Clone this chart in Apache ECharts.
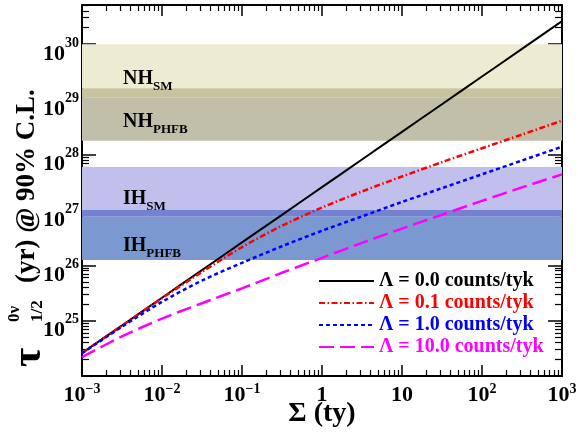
<!DOCTYPE html>
<html>
<head>
<meta charset="utf-8">
<script src="https://cdn.jsdelivr.net/npm/echarts@6/dist/echarts.min.js"></script>
<style>
  html, body { margin: 0; padding: 0; background: #fff; }
  #main { width: 578px; height: 434px; }
</style>
</head>
<body>
<div id="main"></div>
<script>
// exposure Σ (ty)
var exposure = [1e-3, 3.16e-3, 1e-2, 3.16e-2, 0.1, 0.316, 1, 3.16, 10, 31.6, 100, 316, 1000];
// half-life sensitivity (yr) for each background level Λ
var halfLife0 = [2.6e24, 8.2e24, 2.6e25, 8.2e25, 2.6e26, 8.2e26, 2.6e27, 8.2e27, 2.6e28, 8.2e28, 2.6e29, 8.2e29, 2.6e30];
var halfLife01 = [2.61e24, 8.15e24, 2.55e25, 7.6e25, 2.14e26, 5.2e26, 1.11e27, 2.17e27, 4.04e27, 7.35e27, 1.31e28, 2.32e28, 4.13e28];
var halfLife1 = [2.57e24, 7.78e24, 2.19e25, 5.32e25, 1.11e26, 2.22e26, 4.23e26, 7.69e26, 1.4e27, 2.49e27, 4.43e27, 7.87e27, 1.4e28];
var halfLife10 = [2.19e24, 5.2e24, 1.09e25, 2.07e25, 3.85e25, 7.35e25, 1.37e26, 2.55e26, 4.63e26, 8.24e26, 1.47e27, 2.57e27, 4.43e27];

var seriesNames = ['Λ = 0.0 counts/tyk', 'Λ = 0.1 counts/tyk', 'Λ = 1.0 counts/tyk', 'Λ = 10.0 counts/tyk'];
var seriesColors = ['#000000', '#ff0000', '#0000ff', '#ff00ff'];

// hierarchy bands [low, high] (yr)
var nhSM = [1.1e29, 1e30];
var nhPHFB = [1.8e28, 1.6e29];
var ihSM = [7.6e26, 6e27];
var ihPHFB = [1.25e26, 1e27];

// axis ticks
var xMajor = [1e-3, 1e-2, 1e-1, 1, 10, 100, 1000];
var yMajor = [1e24, 1e25, 1e26, 1e27, 1e28, 1e29, 1e30];
var yLabelValues = [1e25, 1e26, 1e27, 1e28, 1e29, 1e30];
var xMin = 1e-3, xMax = 1e3, yMin = 1e24, yMax = 5.1e30;

function minorTicks(d0, d1, max) {
  var out = [];
  for (var d = d0; d <= d1; d++) {
    for (var k = 2; k <= 9; k++) {
      var v = k * Math.pow(10, d);
      if (v < max) out.push(v);
    }
  }
  return out;
}
var xMinor = minorTicks(-3, 2, xMax);
var yMinor = minorTicks(24, 30, yMax);

var serif = 'Liberation Serif';

function expLabel(v, plainSmall) {
  var e = Math.round(Math.log10(v));
  if (plainSmall && e === 0) return '{b|1}';
  if (plainSmall && e === 1) return '{b|10}';
  return '{b|10}{e|' + String(e).replace('-', '\u2212') + '}';
}

var chart = echarts.init(document.getElementById('main'));

function axisBase(type, pos, extra) {
  var a = {
    type: 'log', logBase: 10, gridIndex: 0, position: pos,
    min: type === 'x' ? xMin : yMin, max: type === 'x' ? xMax : yMax,
    splitLine: { show: false },
    axisLine: { show: true, onZero: false, lineStyle: { color: '#000', width: 2 } },
    axisLabel: { show: false },
    axisTick: { show: true, inside: true }
  };
  return Object.assign(a, extra);
}

var xLabelRich = {
  b: { fontFamily: serif, fontWeight: 'bold', fontSize: 22, color: '#000', lineHeight: 27 },
  e: { fontFamily: serif, fontWeight: 'bold', fontSize: 14, color: '#000', padding: [0, 0, 13, 0] }
};
var yLabelRich = {
  b: { fontFamily: serif, fontWeight: 'bold', fontSize: 22, color: '#000', padding: [20, 0, 0, 0] },
  e: { fontFamily: serif, fontWeight: 'bold', fontSize: 14, color: '#000', padding: [0, 0, 2, 0] }
};

var xAxes = [
  axisBase('x', 'bottom', {
    axisTick: { show: true, inside: true, length: 11, customValues: xMajor, lineStyle: { color: '#000', width: 1.5 } },
    axisLabel: { show: true, customValues: xMajor, margin: 6, formatter: function (v) { return expLabel(v, true); }, rich: xLabelRich },
    name: 'Σ (ty)', nameLocation: 'middle', nameGap: 24, nameMoveOverlap: false,
    nameTextStyle: { fontFamily: serif, fontWeight: 'bold', fontSize: 28, color: '#000' }
  }),
  axisBase('x', 'bottom', {
    axisLine: { show: false },
    axisTick: { show: true, inside: true, length: 6, customValues: xMinor, lineStyle: { color: '#000', width: 1.2 } }
  }),
  axisBase('x', 'top', {
    axisTick: { show: true, inside: true, length: 11, customValues: xMajor, lineStyle: { color: '#000', width: 1.5 } }
  }),
  axisBase('x', 'top', {
    axisLine: { show: false },
    axisTick: { show: true, inside: true, length: 6, customValues: xMinor, lineStyle: { color: '#000', width: 1.2 } }
  })
];
var yAxes = [
  axisBase('y', 'left', {
    axisTick: { show: true, inside: true, length: 14, customValues: yMajor, lineStyle: { color: '#000', width: 1.5 } },
    axisLabel: { show: true, customValues: yLabelValues, margin: 3, formatter: function (v) { return expLabel(v, false); }, rich: yLabelRich }
  }),
  axisBase('y', 'left', {
    axisLine: { show: false },
    axisTick: { show: true, inside: true, length: 7, customValues: yMinor, lineStyle: { color: '#000', width: 1.2 } }
  }),
  axisBase('y', 'right', {
    axisTick: { show: true, inside: true, length: 14, customValues: yMajor, lineStyle: { color: '#000', width: 1.5 } }
  }),
  axisBase('y', 'right', {
    axisLine: { show: false },
    axisTick: { show: true, inside: true, length: 7, customValues: yMinor, lineStyle: { color: '#000', width: 1.2 } }
  })
];

// bands: upper-only, overlap, lower-only pieces
function bandPieces(upper, lower, cUpper, cOverlap, cLower) {
  return [
    [{ yAxis: lower[1], itemStyle: { color: cUpper } }, { yAxis: upper[1] }],
    [{ yAxis: upper[0], itemStyle: { color: cOverlap } }, { yAxis: lower[1] }],
    [{ yAxis: lower[0], itemStyle: { color: cLower } }, { yAxis: upper[0] }]
  ];
}
var bandData = bandPieces(nhSM, nhPHFB, '#eeebd3', '#c8c39e', '#c1bfaa')
  .concat(bandPieces(ihSM, ihPHFB, '#c1bfec', '#7483d1', '#7b99d0'));

function pairs(arr) {
  return exposure.map(function (x, i) { return [x, arr[i]]; });
}

var lineTypes = ['solid', [6, 2.5, 1.5, 2.5], [4, 3], [15, 6]];
var lineWidths = [2, 2.5, 2.5, 2.5];
var curves = [halfLife0, halfLife01, halfLife1, halfLife10];

var series = [{
  name: 'bands', type: 'line', z: 1, silent: true,
  data: pairs(halfLife0), symbol: 'none', lineStyle: { opacity: 0 },
  markArea: { silent: true, label: { show: false }, itemStyle: { opacity: 1 }, data: bandData }
}];
curves.forEach(function (c, i) {
  series.push({
    name: seriesNames[i], type: 'line', z: 3 + i, smooth: 0.3,
    data: pairs(c), symbol: 'none', showSymbol: false,
    lineStyle: { color: seriesColors[i], width: lineWidths[i], type: lineTypes[i] },
    itemStyle: { color: seriesColors[i] }
  });
});

function bandLabel(main, sub, x, y, drop) {
  return {
    type: 'text', x: x, y: y, z: 10,
    style: {
      text: '{m|' + main + '}{s|' + sub + '}',
      verticalAlign: 'middle',
      rich: {
        m: { fontFamily: serif, fontWeight: 'bold', fontSize: 20, fill: '#000' },
        s: { fontFamily: serif, fontWeight: 'bold', fontSize: 13, fill: '#000', padding: [drop, 0, 0, 0] }
      }
    }
  };
}

chart.setOption({
  animation: false,
  backgroundColor: '#fff',
  grid: { left: 82, right: 16, top: 5, bottom: 58, outerBoundsMode: 'none', containLabel: false },
  xAxis: xAxes,
  yAxis: yAxes,
  legend: {
    orient: 'vertical', left: 318, top: 270, padding: 0,
    itemWidth: 55, itemHeight: 10, itemGap: 0, selectedMode: false,
    itemStyle: { color: 'rgba(0,0,0,0)', borderWidth: 0, opacity: 0 },
    textStyle: { fontFamily: serif, fontWeight: 'bold', fontSize: 20, lineHeight: 22 },
    data: seriesNames.map(function (n, i) { return { name: n, textStyle: { color: seriesColors[i] } }; })
  },
  series: series,
  graphic: [
    bandLabel('NH', 'SM', 123, 79, 16),
    bandLabel('NH', 'PHFB', 123, 122, 16),
    bandLabel('IH', 'SM', 123, 199, 16),
    bandLabel('IH', 'PHFB', 123, 246, 16),
    {
      type: 'group', x: 29, y: 367, rotation: Math.PI / 2,
      children: [
        { type: 'text', x: 0, y: 0, style: { text: 'τ', font: 'bold 42px "Liberation Serif"', fill: '#000', verticalAlign: 'middle' } },
        { type: 'text', x: 45, y: -14, style: { text: '0ν', font: 'bold 17px "Liberation Serif"', fill: '#000', verticalAlign: 'middle' } },
        { type: 'text', x: 45, y: 9, style: { text: '1/2', font: 'bold 17px "Liberation Serif"', fill: '#000', verticalAlign: 'middle' } },
        { type: 'text', x: 84, y: -2, style: { text: '(yr) @ 90% C.L.', font: 'bold 27px "Liberation Serif"', fill: '#000', verticalAlign: 'middle' } }
      ]
    }
  ]
});
</script>
</body>
</html>
